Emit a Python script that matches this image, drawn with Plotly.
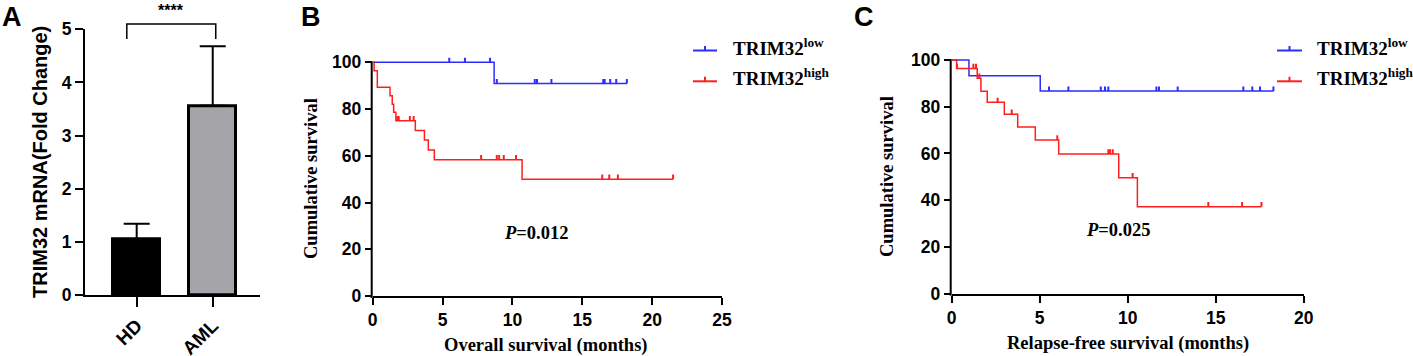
import plotly.graph_objects as go

W, H = 1413, 356

# ---------------- data ----------------
# Panel A: TRIM32 mRNA fold change
groups = ["HD", "AML"]
fold_change = [1.04, 3.56]
fold_err = [0.30, 1.12]
a_ticks = [0, 1, 2, 3, 4, 5]

# Panel B: overall survival (months, % survival), step points
os_low_t = [0, 8.69, 18.2]
os_low_s = [100, 90.9, 90.9]
os_low_cens = [5.48, 6.6, 8.4, 8.88, 11.6, 11.76, 12.79, 16.5, 16.6, 17.0, 17.43, 18.19]
os_high_t = [0, 0.1, 0.33, 1.24, 1.4, 1.5, 1.66, 3.05, 3.7, 3.98, 4.41, 10.69, 21.5]
os_high_s = [100, 96.4, 89.3, 85.7, 82.1, 78.6, 75.0, 70.8, 66.7, 62.5, 58.3, 50.0, 50.0]
os_high_cens = [1.76, 1.86, 2.66, 2.93, 7.76, 8.88, 9.05, 9.38, 10.26, 16.43, 16.93, 17.55, 21.5]
b_xticks = [0, 5, 10, 15, 20, 25]

# Panel C: relapse-free survival
rfs_low_t = [0, 0.98, 5.03, 18.3]
rfs_low_s = [100, 93.3, 86.7, 86.7]
rfs_low_cens = [5.53, 6.63, 8.47, 8.71, 8.9, 11.63, 11.78, 12.84, 16.57, 17.08, 17.52, 18.28]
rfs_high_t = [0, 0.28, 1.45, 1.66, 2.02, 2.99, 3.75, 4.75, 6.08, 9.49, 10.55, 17.6]
rfs_high_s = [100, 96.4, 92.2, 86.6, 81.9, 76.8, 71.3, 65.8, 59.8, 49.6, 37.2, 37.2]
rfs_high_cens = [0.3, 1.23, 1.38, 1.57, 2.61, 3.41, 6.0, 8.9, 9.0, 9.15, 10.28, 14.58, 16.5, 17.6]
c_xticks = [0, 5, 10, 15, 20]

surv_ticks = [0, 20, 40, 60, 80, 100]
legend_names = ["TRIM32<sup>low</sup>", "TRIM32<sup>high</sup>"]
p_values = ["0.012", "0.025"]

BLUE = "rgb(45,45,255)"
RED = "rgb(255,30,30)"
SANS = "Liberation Sans, Arial, sans-serif"
SERIF = "Liberation Serif, Times New Roman, serif"


def px(x):
    return x / W


def py(y):
    return 1 - y / H


def to_paper(v, dom, rng):
    return dom[0] + (v - rng[0]) / (rng[1] - rng[0]) * (dom[1] - dom[0])


def step_at(ts, ss, t):
    val = ss[0]
    for ti, si in zip(ts, ss):
        if ti <= t:
            val = si
    return val


def bold(vals):
    return [f"<b>{v}</b>" for v in vals]


def censor_trace(ts, ss, cens, color, xa, ya, h=2.0):
    xs, ys = [], []
    for c in cens:
        s = step_at(ts, ss, c)
        xs += [c, c, None]
        ys += [s, s + h, None]
    return go.Scatter(x=xs, y=ys, mode="lines", line=dict(color=color, width=2),
                      xaxis=xa, yaxis=ya, showlegend=False, hoverinfo="skip")


fig = go.Figure()

# ---------------- Panel A ----------------
A_xdom = [px(85), px(260)]
A_xrng = [-0.68, 1.622]
A_ydom = [py(295), py(29.3)]
A_yrng = [0, 5]

fig.add_trace(go.Bar(
    x=[0, 1], y=fold_change, width=0.62,
    marker=dict(color=["black", "#a4a4a9"], line=dict(color="black", width=3)),
    error_y=dict(type="data", array=fold_err, arrayminus=[0, 0], symmetric=False,
                 color="black", thickness=2, width=13),
    xaxis="x", yaxis="y", showlegend=False))

# ---------------- Panel B / C ----------------
B_xdom = [px(372.7), px(722)]
B_xrng = [0, 25]
B_ydom = [py(296), py(296 - 102.5 * 2.337)]
B_yrng = [0, 102.5]

C_xdom = [px(951.7), px(1303.7)]
C_xrng = [0, 20]
C_ydom = [py(293.7), py(293.7 - 102.5 * 2.337)]
C_yrng = [0, 102.5]

for (t, s, cens, col, xa, ya) in [
    (os_low_t, os_low_s, os_low_cens, BLUE, "x2", "y2"),
    (os_high_t, os_high_s, os_high_cens, RED, "x2", "y2"),
    (rfs_low_t, rfs_low_s, rfs_low_cens, BLUE, "x3", "y3"),
    (rfs_high_t, rfs_high_s, rfs_high_cens, RED, "x3", "y3"),
]:
    fig.add_trace(go.Scatter(x=t, y=s, mode="lines", line=dict(color=col, width=1.5, shape="hv"),
                             xaxis=xa, yaxis=ya, showlegend=False))
    fig.add_trace(censor_trace(t, s, cens, col, xa, ya))

axis_common = dict(showgrid=False, zeroline=False, showline=True, linecolor="black", linewidth=2,
                   ticks="outside", tickcolor="black", tickwidth=2, fixedrange=True, automargin=False)
tickfont = dict(family=SANS, size=17.5, color="black", weight="bold")

fig.update_layout(
    width=W, height=H, margin=dict(l=0, r=0, t=0, b=0, pad=0, autoexpand=False),
    paper_bgcolor="white", plot_bgcolor="white", showlegend=False, bargap=0,
    xaxis=dict(domain=A_xdom, range=A_xrng, anchor="y", tickvals=[0, 1], ticktext=bold(groups),
               tickangle=-45, ticklen=10, tickfont=dict(family=SANS, size=19, color="black", weight="bold"),
               **axis_common),
    yaxis=dict(domain=A_ydom, range=A_yrng, anchor="x", tickvals=a_ticks, ticktext=bold(a_ticks), ticklen=8,
               tickfont=dict(family=SANS, size=17.5, color="black", weight="bold"), **axis_common),
    xaxis2=dict(domain=B_xdom, range=B_xrng, anchor="y2", tickvals=b_xticks, ticktext=bold(b_xticks),
                ticklen=7, tickfont=tickfont, **axis_common),
    yaxis2=dict(domain=B_ydom, range=B_yrng, anchor="x2", tickvals=surv_ticks, ticktext=bold(surv_ticks),
                ticklen=7, tickfont=tickfont, **{**axis_common, "showline": False}),
    xaxis3=dict(domain=C_xdom, range=C_xrng, anchor="y3", tickvals=c_xticks, ticktext=bold(c_xticks),
                ticklen=7, tickfont=tickfont, **axis_common),
    yaxis3=dict(domain=C_ydom, range=C_yrng, anchor="x3", tickvals=surv_ticks, ticktext=bold(surv_ticks),
                ticklen=7, tickfont=tickfont, **{**axis_common, "showline": False}),
)

shapes = []
# y-axis lines of B and C ending at 100
for xdom, ydom, yrng in [(B_xdom, B_ydom, B_yrng), (C_xdom, C_ydom, C_yrng)]:
    xl = xdom[0] - 1 / W
    shapes.append(dict(type="line", xref="paper", yref="paper", x0=xl, x1=xl,
                       y0=to_paper(0, ydom, yrng) - 2 / H, y1=to_paper(100, ydom, yrng) + 1 / H,
                       line=dict(color="black", width=2)))

# significance bracket in panel A
bx0 = to_paper(-0.13, A_xdom, A_xrng)
bx1 = to_paper(1.04, A_xdom, A_xrng)
by_top = py(24)
by_bot = py(39)
shapes.append(dict(type="path", xref="paper", yref="paper",
                   path=f"M {bx0},{by_bot} L {bx0},{by_top} L {bx1},{by_top} L {bx1},{by_bot}",
                   line=dict(color="black", width=1.5)))

# legend samples
annotations = []
for (lx0, lx1, tx) in [(693, 717, 731), (1277, 1302, 1315)]:
    for i, (ly, col) in enumerate([(50.5, BLUE), (81.3, RED)]):
        shapes.append(dict(type="line", xref="paper", yref="paper", x0=px(lx0), x1=px(lx1),
                           y0=py(ly), y1=py(ly), line=dict(color=col, width=2)))
        xm = (lx0 + lx1) / 2
        shapes.append(dict(type="line", xref="paper", yref="paper", x0=px(xm), x1=px(xm),
                           y0=py(ly), y1=py(ly - 4.5), line=dict(color=col, width=2)))
        annotations.append(dict(xref="paper", yref="paper", x=px(tx), y=py(ly + 10), xanchor="left",
                                yanchor="bottom", showarrow=False, text=f"<b>{legend_names[i]}</b>",
                                font=dict(family=SERIF, size=19, color="black")))

fig.update_layout(shapes=shapes)

# stars
annotations.append(dict(xref="paper", yref="paper", x=px(171), y=py(0), xanchor="center", yanchor="top",
                        showarrow=False, text="<b>****</b>", font=dict(family=SANS, size=16, color="black")))
# panel letters
for letter, lx in [("A", 0), ("B", 299), ("C", 852)]:
    annotations.append(dict(xref="paper", yref="paper", x=px(lx), y=1, xanchor="left", yanchor="top",
                            showarrow=False, text=f"<b>{letter}</b>",
                            font=dict(family=SANS, size=27, color="black")))
# axis titles
annotations.append(dict(xref="paper", yref="paper", x=px(40), y=py(162), xanchor="center", yanchor="middle",
                        textangle=-90, showarrow=False,
                        text="<b>TRIM32 mRNA(Fold Change)</b>", font=dict(family=SANS, size=20, color="black")))
for (xt, yt, txt) in [(311, 179, "Cumulative survival"), (887, 177, "Cumulative survival")]:
    annotations.append(dict(xref="paper", yref="paper", x=px(xt), y=py(yt), xanchor="center", yanchor="middle",
                            textangle=-90, showarrow=False,
                            text=f"<b>{txt}</b>", font=dict(family=SERIF, size=18.5, color="black")))
for (xt, yt, txt) in [(546, 345, "Overall survival (months)"), (1127.5, 343, "Relapse-free survival (months)")]:
    annotations.append(dict(xref="paper", yref="paper", x=px(xt), y=py(yt), xanchor="center", yanchor="middle",
                            showarrow=False,
                            text=f"<b>{txt}</b>", font=dict(family=SERIF, size=18.5, color="black")))
# P values
for (xa, ya, xv, yv, pv) in [("x2", "y2", 11.7, 27, p_values[0]), ("x3", "y3", 9.45, 27.3, p_values[1])]:
    annotations.append(dict(xref=xa, yref=ya, x=xv, y=yv, xanchor="center", yanchor="middle", showarrow=False,
                            text=f"<b><i>P</i>=" + pv + "</b>", font=dict(family=SERIF, size=18.5, color="black")))

fig.update_layout(annotations=annotations)

fig.write_html("out.html", config={"displayModeBar": False},
               post_script="document.body.style.margin='0px';document.body.style.overflow='hidden';")
